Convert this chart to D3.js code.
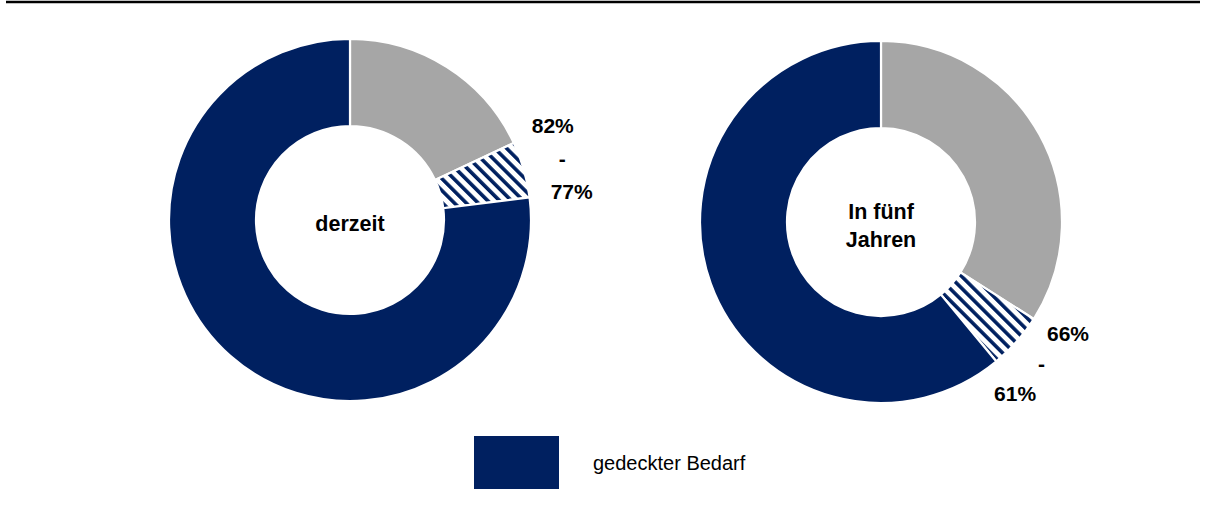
<!DOCTYPE html>
<html lang="de">
<head>
<meta charset="utf-8">
<script src="https://cdn.jsdelivr.net/npm/d3@7"></script>
<style>
  html, body { margin: 0; padding: 0; background: #fff; }
  svg { display: block; font-family: "Liberation Sans", Arial, sans-serif; }
</style>
</head>
<body>
<svg id="chart" width="1221" height="515"></svg>
<script>
// Donut titles (one donut per point in time)
const periods = ["derzeit", "In fünf Jahren"];
// Share of demand covered: upper and lower bound of the estimate (%)
const upperBound = [82, 66];
const lowerBound = [77, 61];
// Slice names, drawn clockwise from 12 o'clock
const sliceNames = ["ungedeckt", "Spanne", "gedeckt"];
const legendLabels = ["gedeckter Bedarf"];

const NAVY = "#002060";
const GREY = "#a6a6a6";

const svg = d3.select("#chart");

// diagonal stripe fill for the uncertainty range
const STRIPE = 8.4;
const defs = svg.append("defs");
const pat = defs.append("pattern")
  .attr("id", "stripes")
  .attr("patternUnits", "userSpaceOnUse")
  .attr("width", STRIPE).attr("height", STRIPE)
  .attr("patternTransform", "rotate(-45)");
pat.append("rect").attr("width", STRIPE).attr("height", STRIPE).attr("fill", "#fff");
pat.append("rect").attr("x", 0).attr("y", 0).attr("width", 3.6).attr("height", STRIPE).attr("fill", NAVY);

// top rule
svg.append("line")
  .attr("x1", 6).attr("x2", 1200).attr("y1", 2).attr("y2", 2)
  .attr("stroke", "#000").attr("stroke-width", 2.5);

const fills = { "ungedeckt": GREY, "Spanne": "url(#stripes)", "gedeckt": NAVY };

const cx = d3.scaleOrdinal().domain(periods).range([350, 881]);
const cy = d3.scaleOrdinal().domain(periods).range([220, 222]);
const outerR = 181, innerR = 94;
const labelR = [221, 214];
const labelGap = [34, 40];

const pie = d3.pie().sort(null).value(d => d.value);
const arc = d3.arc().innerRadius(innerR).outerRadius(outerR);

periods.forEach((p, i) => {
  const slices = [
    { name: sliceNames[0], value: 100 - upperBound[i] },
    { name: sliceNames[1], value: upperBound[i] - lowerBound[i] },
    { name: sliceNames[2], value: lowerBound[i] }
  ];
  const g = svg.append("g").attr("transform", `translate(${cx(p)},${cy(p)})`);
  const arcs = pie(slices);

  g.selectAll("path.slice").data(arcs).join("path")
    .attr("class", "slice")
    .attr("d", arc)
    .attr("fill", d => fills[d.data.name])
    .attr("stroke", "#fff")
    .attr("stroke-width", 2.2)
    .attr("stroke-linejoin", "miter");

  // centre title
  const words = p === "In fünf Jahren" ? ["In fünf", "Jahren"] : [p];
  const title = g.append("text")
    .attr("text-anchor", "middle")
    .attr("font-weight", "bold")
    .attr("font-size", 21.5)
    .attr("fill", "#000");
  words.forEach((w, k) => {
    title.append("tspan")
      .attr("x", 0)
      .attr("y", (k - (words.length - 1) / 2) * 28 + 11)
      .text(w);
  });

  // range label next to the striped slice, laid out along the tangent
  const band = arcs[1];
  const mid = (band.startAngle + band.endAngle) / 2;
  const rx = Math.sin(mid), ry = -Math.cos(mid);
  const tx = -ry, ty = rx;
  const lines = [upperBound[i] + "%", "-", lowerBound[i] + "%"];
  lines.forEach((t, k) => {
    const off = (k - 1) * labelGap[i];
    g.append("text")
      .attr("x", rx * labelR[i] + tx * off)
      .attr("y", ry * labelR[i] + ty * off + 7.5)
      .attr("text-anchor", "middle")
      .attr("font-weight", "bold")
      .attr("font-size", 21)
      .attr("fill", "#000")
      .text(t);
  });
});

// legend
const legend = svg.append("g").attr("transform", "translate(474,436)");
legend.selectAll("rect").data(legendLabels).join("rect")
  .attr("width", 85).attr("height", 53).attr("fill", NAVY);
legend.selectAll("text").data(legendLabels).join("text")
  .attr("x", 119).attr("y", 34)
  .attr("font-size", 20)
  .attr("fill", "#000")
  .text(d => d);
</script>
</body>
</html>
